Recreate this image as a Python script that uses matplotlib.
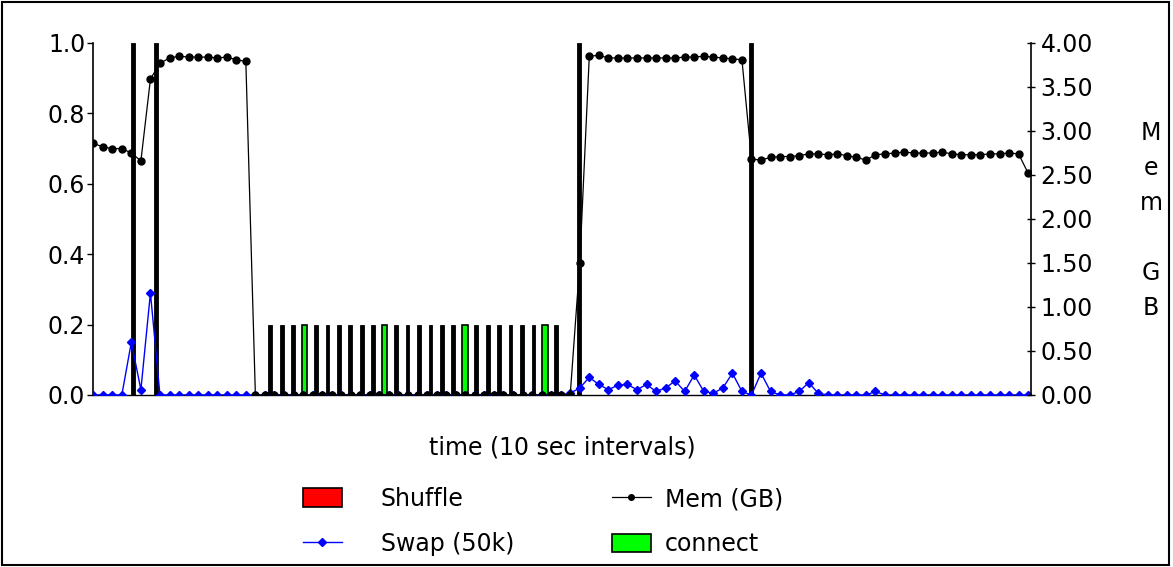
import matplotlib
matplotlib.use("Agg")
import matplotlib.pyplot as plt
import numpy as np
from matplotlib.patches import Patch, Rectangle
from matplotlib.lines import Line2D

# bar slots (category axis, 82 slots)
n_slots = 82
shuffle_slots = [3, 5, 42, 57]
shuffle_height = [1.0, 1.0, 1.0, 1.0]
short_slots = [15, 16, 17, 19, 20, 21, 22, 23, 24, 26, 27, 28, 29, 30, 31,
               33, 34, 35, 36, 37, 38, 40]
short_height = [0.2] * len(short_slots)
connect_slots = [18, 25, 32, 39]
connect_height = [0.2, 0.2, 0.2, 0.2]

# line series, one sample per 10 sec interval
mem_gb = [2.86, 2.82, 2.80, 2.80, 2.75, 2.66, 3.59, 3.77, 3.83, 3.85,
          3.84, 3.84, 3.84, 3.83, 3.84, 3.81, 3.79, 0.0, 0.0, 0.0,
          0.0, 0.0, 0.0, 0.0, 0.0, 0.0, 0.0, 0.0, 0.0, 0.0,
          0.0, 0.0, 0.0, 0.0, 0.0, 0.0, 0.0, 0.0, 0.0, 0.0,
          0.0, 0.0, 0.0, 0.0, 0.0, 0.0, 0.0, 0.0, 0.0, 0.0,
          0.0, 1.50, 3.85, 3.86, 3.83, 3.83, 3.83, 3.83, 3.83, 3.83,
          3.83, 3.83, 3.84, 3.84, 3.85, 3.84, 3.83, 3.82, 3.81, 2.68,
          2.67, 2.70, 2.71, 2.71, 2.72, 2.74, 2.74, 2.73, 2.74, 2.72,
          2.70, 2.67, 2.73, 2.74, 2.75, 2.76, 2.75, 2.75, 2.75, 2.76,
          2.74, 2.73, 2.73, 2.73, 2.74, 2.74, 2.75, 2.74, 2.52]
swap = [0.0, 0.0, 0.0, 0.0, 0.15, 0.015, 0.29, 0.0, 0.0, 0.0,
        0.0, 0.0, 0.0, 0.0, 0.0, 0.0, 0.0, 0.0, 0.0, 0.0,
        0.0, 0.0, 0.0, 0.0, 0.0, 0.0, 0.0, 0.0, 0.0, 0.0,
        0.0, 0.0, 0.0, 0.0, 0.0, 0.0, 0.0, 0.0, 0.0, 0.0,
        0.0, 0.0, 0.0, 0.0, 0.0, 0.0, 0.0, 0.0, 0.0, 0.0,
        0.005, 0.02, 0.05, 0.03, 0.015, 0.028, 0.03, 0.015, 0.03, 0.01,
        0.02, 0.04, 0.01, 0.057, 0.01, 0.005, 0.02, 0.062, 0.01, 0.0,
        0.062, 0.01, 0.0, 0.0, 0.01, 0.035, 0.005, 0.0, 0.0, 0.0,
        0.0, 0.0, 0.01, 0.0, 0.0, 0.0, 0.0, 0.0, 0.0, 0.0,
        0.0, 0.0, 0.0, 0.0, 0.0, 0.0, 0.0, 0.0, 0.0]

left_ticks = [0.0, 0.2, 0.4, 0.6, 0.8, 1.0]
right_ticks = [0.0, 0.5, 1.0, 1.5, 2.0, 2.5, 3.0, 3.5, 4.0]

plt.rcParams['font.family'] = ['DejaVu Sans']
fs = 17

W, H = 1173, 567
fig = plt.figure(figsize=(W / 100, H / 100), dpi=100)
fig.patch.set_facecolor('white')
fig.add_artist(Rectangle((0.002, 0.003), 0.995, 0.994, transform=fig.transFigure,
                         fill=False, edgecolor='black', linewidth=1.5))

l, r, b, t = 93 / W, 1031 / W, 1 - 395 / H, 1 - 43 / H
ax = fig.add_axes([l, b, r - l, t - b])
ax.bar(shuffle_slots, shuffle_height, width=0.36, color='black', edgecolor='black', linewidth=0.6)
ax.bar(short_slots, short_height, width=0.33, color='black', edgecolor='black', linewidth=0.6)
ax.bar(connect_slots, connect_height, width=0.48, color='#00ff00', edgecolor='black', linewidth=1.2)
ax.set_xlim(-0.5, n_slots - 0.5)
ax.set_ylim(0, 1.0)
ax.set_xticks([])
ax.set_yticks(left_ticks)
ax.set_yticklabels(['%.1f' % v for v in left_ticks], fontsize=fs)
ax.tick_params(axis='y', direction='out', length=4.5, width=1, pad=1)
for s in ['top', 'right']:
    ax.spines[s].set_visible(False)
ax.spines['left'].set_linewidth(1.2)
ax.spines['bottom'].set_linewidth(1.0)

ax_t = ax.twiny()
xs = np.arange(len(swap))
ax_t.plot(xs, swap, color='#0000ff', linewidth=1.0, marker='D', markersize=4.2)
ax_t.set_xlim(-0.02, 98.3)
ax_t.xaxis.set_visible(False)
for s in ax_t.spines.values():
    s.set_visible(False)

ax_m = ax_t.twinx()
ax_m.plot(np.arange(len(mem_gb)), mem_gb, color='black', linewidth=0.9, marker='o', markersize=5)
ax_m.set_ylim(0, 4.0)
ax_m.set_yticks(right_ticks)
ax_m.set_yticklabels(['%.2f' % v for v in right_ticks], fontsize=fs)
ax_m.tick_params(axis='y', direction='inout', length=6, width=1, pad=4)
for s in ['top', 'left', 'bottom']:
    ax_m.spines[s].set_visible(False)
ax_m.spines['right'].set_linewidth(1.2)

fig.text(562 / W, 1 - 447 / H, 'time (10 sec intervals)', ha='center', va='center', fontsize=fs)

for ch, yp in zip(['M', 'e', 'm', 'G', 'B'], [133, 168, 203, 273, 308]):
    fig.text(1151 / W, 1 - yp / H, ch, ha='center', va='center', fontsize=fs)

leg_kw = dict(loc='upper left', frameon=False, fontsize=fs, borderpad=0, borderaxespad=0,
              handlelength=1.65, handleheight=0.85, labelspacing=0.9)
col1 = [Patch(facecolor='red', edgecolor='black', linewidth=1.2),
        Line2D([], [], color='#0000ff', linewidth=1.0, marker='D', markersize=4.2)]
col2 = [Line2D([], [], color='black', linewidth=0.9, marker='o', markersize=4),
        Patch(facecolor='#00ff00', edgecolor='black', linewidth=1.2)]
fig.legend(col1, ['Shuffle', 'Swap (50k)'], bbox_to_anchor=(303 / W, 1 - 487 / H),
           handletextpad=1.65, **leg_kw)
fig.legend(col2, ['Mem (GB)', 'connect'], bbox_to_anchor=(612 / W, 1 - 487 / H),
           handletextpad=0.6, **leg_kw)

fig.savefig('out.png', dpi=100)
